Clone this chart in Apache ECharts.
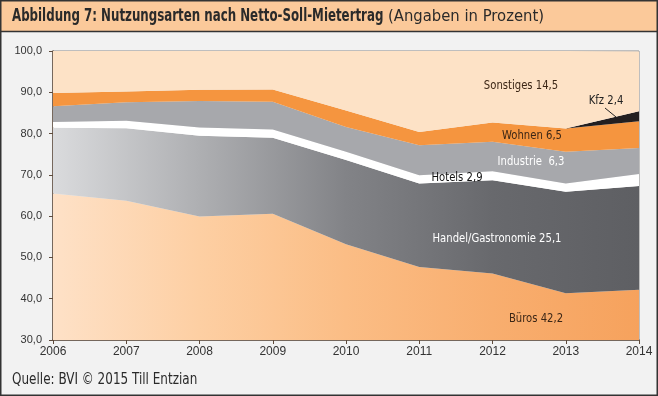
<!DOCTYPE html>
<html>
<head>
<meta charset="utf-8">
<script src="https://cdn.jsdelivr.net/npm/echarts@6/dist/echarts.min.js"></script>
<style>
  html, body { margin: 0; padding: 0; background: #f2f2f2; }
  #chart { width: 658px; height: 396px; }
</style>
</head>
<body>
<div id="chart"></div>
<script>
// data (Anteile in Prozent, gestapelt)
const years = ["2006", "2007", "2008", "2009", "2010", "2011", "2012", "2013", "2014"];
const bueros = [65.5, 63.7, 59.9, 60.6, 53.2, 47.7, 46.1, 41.3, 42.2];
const handel = [15.9, 17.6, 19.6, 18.4, 20.4, 20.2, 22.6, 24.6, 25.1];
const hotels = [1.4, 1.8, 2.0, 2.0, 2.0, 2.0, 2.2, 2.0, 2.9];
const industrie = [3.8, 4.5, 6.4, 6.7, 6.0, 7.3, 7.1, 7.7, 6.3];
const wohnen = [3.2, 2.6, 2.7, 3.0, 4.0, 3.2, 4.7, 5.6, 6.5];
const kfz = [0, 0, 0, 0, 0, 0, 0, 0, 2.4];
const sonstiges = [10.2, 9.8, 9.4, 9.3, 14.4, 19.6, 17.3, 18.8, 14.5];

const narrow = '"DejaVu Sans Condensed", "DejaVu Sans", sans-serif';
const plain = '"Liberation Sans", Arial, sans-serif';
const fmt = (v) => v.toFixed(1).replace(".", ",");

const chart = echarts.init(document.getElementById("chart"));

const hGrad = (stops) =>
  new echarts.graphic.LinearGradient(
    0, 0, 1, 0,
    stops.map((c, i) => ({ offset: i / (stops.length - 1), color: c }))
  );

const layer = (name, data, color) => ({
  name: name,
  type: "line",
  stack: "total",
  data: data,
  symbol: "none",
  lineStyle: { width: 0 },
  areaStyle: { color: color, opacity: 1 },
  silent: true,
});

// labels at the right end, text built from the 2014 values
const last = (arr) => fmt(arr[arr.length - 1]);
const label = (text, x, y, color) => ({
  type: "text",
  x: x,
  y: y,
  z: 50,
  scaleX: 0.86,
  style: {
    text: text,
    fill: color,
    font: "13px " + narrow,
    align: "center",
    verticalAlign: "middle",
  },
});

chart.setOption({
  backgroundColor: "#f2f2f2",
  animation: false,
  grid: {
    left: 53,
    right: 19,
    top: 51,
    bottom: 56,
    show: true,
    borderColor: "#8a8a8a",
    borderWidth: 1,
    backgroundColor: "transparent",
  },
  xAxis: {
    type: "category",
    data: years,
    boundaryGap: false,
    axisLine: { lineStyle: { color: "#5e4b3c", width: 1.5 } },
    axisTick: { alignWithLabel: true, length: 4, lineStyle: { color: "#5e4b3c" } },
    axisLabel: { color: "#333", fontSize: 12, margin: 6, fontFamily: plain },
  },
  yAxis: {
    type: "value",
    min: 30,
    max: 100,
    interval: 10,
    splitLine: { show: false },
    axisLine: { show: true, lineStyle: { color: "#5e4b3c", width: 1.5 } },
    axisTick: { show: true, length: 4, lineStyle: { color: "#5e4b3c" } },
    axisLabel: {
      color: "#333",
      fontSize: 11,
      margin: 11,
      fontFamily: plain,
      formatter: (v) => fmt(v),
    },
  },
  series: [
    layer("Büros", bueros, hGrad(["#fee1c7", "#fdcfa3", "#fbbd85", "#f8ae6f", "#f6a25d"])),
    layer("Handel/Gastronomie", handel, hGrad(["#dadbdd", "#aeafb2", "#828387", "#68696d", "#5e5f63"])),
    layer("Hotels", hotels, "#ffffff"),
    layer("Industrie", industrie, "#a7a8ac"),
    layer("Wohnen", wohnen, "#f5953f"),
    layer("Kfz", kfz, "#231f20"),
    layer("Sonstiges", sonstiges, "#fde2c6"),
  ],
  graphic: [
    // title bar
    {
      type: "rect",
      shape: { x: 0, y: 0, width: 658, height: 31 },
      style: { fill: "#fbc99a" },
      z: 10,
    },
    {
      type: "line",
      shape: { x1: 0, y1: 31.5, x2: 658, y2: 31.5 },
      style: { stroke: "#333", lineWidth: 1.5 },
      z: 11,
    },
    {
      type: "text",
      x: 12,
      y: 16,
      z: 12,
      scaleX: 0.73,
      style: {
        text: "Abbildung 7: Nutzungsarten nach Netto-Soll-Mietertrag",
        font: "bold 18px " + narrow,
        fill: "#2a2a2a",
        verticalAlign: "middle",
      },
    },
    {
      type: "text",
      x: 388,
      y: 17,
      z: 12,
      scaleX: 1.03,
      style: {
        text: "(Angaben in Prozent)",
        font: "16px " + narrow,
        fill: "#2a2a2a",
        verticalAlign: "middle",
      },
    },
    // outer frame
    {
      type: "rect",
      shape: { x: 0.75, y: 0.75, width: 656.5, height: 394.5 },
      style: { fill: "none", stroke: "#333", lineWidth: 1.5 },
      z: 20,
    },
    // source
    {
      type: "text",
      x: 12,
      y: 380,
      z: 12,
      scaleX: 0.89,
      style: {
        text: "Quelle: BVI © 2015 Till Entzian",
        font: "15px " + narrow,
        fill: "#2a2a2a",
        verticalAlign: "middle",
      },
    },
    // area labels
    label("Sonstiges " + last(sonstiges), 521, 86, "#3b2616"),
    label("Kfz " + last(kfz), 606, 101, "#222"),
    {
      type: "line",
      z: 50,
      shape: { x1: 605, y1: 108, x2: 616, y2: 117 },
      style: { stroke: "#222", lineWidth: 1 },
    },
    label("Wohnen " + last(wohnen), 532, 136, "#3b2616"),
    label("Industrie  " + last(industrie), 531, 162, "#ffffff"),
    label("Hotels " + last(hotels), 457, 178, "#111"),
    label("Handel/Gastronomie " + last(handel), 497, 239, "#ffffff"),
    label("Büros " + last(bueros), 536, 319, "#3b2616"),
  ],
});
</script>
</body>
</html>
